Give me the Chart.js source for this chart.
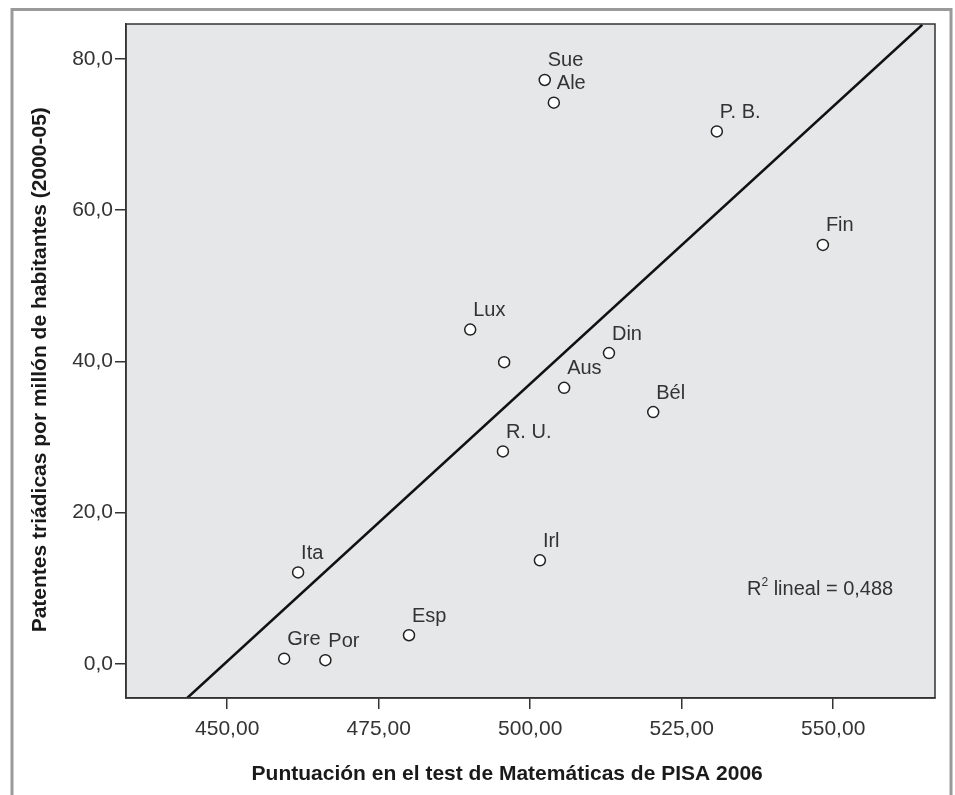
<!doctype html>
<html>

<head>
    <title>PISA y patentes</title>
    <script src="https://cdn.jsdelivr.net/npm/chart.js"></script>
    <style>
        body { margin: 0; background: #fff; }
        #box { width: 955px; height: 795px; }
    </style>
</head>

<body>
    <div id="box">
        <canvas id="grafico" width="955" height="795"></canvas>
    </div>

    <script>
        // datos
        var paises = ['Sue', 'Ale', 'P. B.', 'Fin', 'Lux', '', 'Din', 'Aus', 'Bél', 'R. U.', 'Irl', 'Ita', 'Esp', 'Gre', 'Por'];
        var pisaMat = [502.4, 503.9, 530.8, 548.3, 490.1, 495.7, 513.0, 505.6, 520.3, 495.5, 501.6, 461.7, 480.0, 459.4, 466.2];
        var patentes = [77.2, 74.2, 70.4, 55.4, 44.2, 39.9, 41.1, 36.5, 33.3, 28.1, 13.7, 12.1, 3.8, 0.7, 0.5];

        var rectaX = [443.4, 564.7];
        var rectaY = [-4.5, 84.5];
        var r2Texto = '0,488';

        var ticksX = [450, 475, 500, 525, 550];
        var ticksY = [0, 20, 40, 60, 80];

        var fuente = "'Liberation Sans', Arial, sans-serif";
        var gris = '#333333';

        var puntos = pisaMat.map((x, i) => ({ x: x, y: patentes[i] }));
        var recta = rectaX.map((x, i) => ({ x: x, y: rectaY[i] }));

        // espacios finales para descentrar los titulos como en el original
        var esp = n => '\u00a0'.repeat(n);

        var marco = {
            id: 'marco',
            beforeDraw(chart) {
                var ctx = chart.ctx, a = chart.chartArea;
                ctx.save();
                ctx.strokeStyle = '#9a9a9a';
                ctx.lineWidth = 3;
                ctx.strokeRect(12, 9.5, 939, 800);
                ctx.fillStyle = '#e6e7e8';
                ctx.fillRect(a.left, a.top, a.right - a.left, a.bottom - a.top);
                ctx.restore();
            },
            afterDraw(chart) {
                var ctx = chart.ctx, a = chart.chartArea;
                var sx = chart.scales.x, sy = chart.scales.y;
                ctx.save();
                ctx.strokeStyle = gris;
                ctx.lineWidth = 1.5;
                ctx.strokeRect(a.left, a.top, a.right - a.left, a.bottom - a.top);

                // etiquetas de paises
                ctx.fillStyle = gris;
                ctx.font = '20px ' + fuente;
                ctx.textAlign = 'left';
                ctx.textBaseline = 'middle';
                paises.forEach((p, i) => {
                    if (!p) return;
                    ctx.fillText(p, sx.getPixelForValue(pisaMat[i]) + 3, sy.getPixelForValue(patentes[i]) - 19);
                });

                // R2
                var rx = sx.getPixelForValue(559.9), ry = sy.getPixelForValue(9.9);
                var resto = ' lineal = ' + r2Texto;
                ctx.textAlign = 'right';
                ctx.fillText(resto, rx, ry);
                var w = ctx.measureText(resto).width;
                ctx.font = '12px ' + fuente;
                ctx.fillText('2', rx - w, ry - 6);
                var w2 = ctx.measureText('2').width;
                ctx.font = '20px ' + fuente;
                ctx.fillText('R', rx - w - w2, ry);
                ctx.restore();
            }
        };

        var grafico = new Chart(document.getElementById('grafico').getContext('2d'), {
            type: 'scatter',
            data: {
                datasets: [{
                    label: 'Paises',
                    data: puntos,
                    pointRadius: 5.5,
                    pointBorderWidth: 1.5,
                    pointBorderColor: '#222',
                    pointBackgroundColor: '#ffffff'
                }, {
                    type: 'line',
                    label: 'Lineal',
                    data: recta,
                    borderColor: '#111',
                    borderWidth: 2.5,
                    pointRadius: 0,
                    fill: false
                }]
            },
            options: {
                responsive: false,
                animation: false,
                layout: {
                    padding: { left: 10, right: 20, top: 24, bottom: 0 }
                },
                plugins: {
                    legend: { display: false },
                    tooltip: { enabled: false }
                },
                scales: {
                    x: {
                        type: 'linear',
                        min: 433.3,
                        max: 566.8,
                        afterBuildTicks: s => { s.ticks = ticksX.map(v => ({ value: v })); },
                        afterFit: s => { s.height = 97; },
                        grid: { drawOnChartArea: false, drawTicks: true, tickLength: 11, color: gris, lineWidth: 1.5 },
                        border: { display: true, color: gris, width: 1.5 },
                        ticks: {
                            color: gris,
                            padding: 8,
                            font: { family: fuente, size: 21 },
                            callback: v => v.toFixed(2).replace('.', ',')
                        },
                        title: {
                            display: true,
                            text: 'Puntuación en el test de Matemáticas de PISA 2006' + esp(8),
                            color: '#1a1a1a',
                            font: { family: fuente, size: 21, weight: 'bold' },
                            padding: { top: 0, bottom: 8 }
                        }
                    },
                    y: {
                        type: 'linear',
                        min: -4.5,
                        max: 84.6,
                        afterBuildTicks: s => { s.ticks = ticksY.map(v => ({ value: v })); },
                        afterFit: s => { s.width = 116; },
                        grid: { drawOnChartArea: false, drawTicks: true, tickLength: 11, color: gris, lineWidth: 1.5 },
                        border: { display: true, color: gris, width: 1.5 },
                        ticks: {
                            color: gris,
                            padding: 2,
                            font: { family: fuente, size: 21 },
                            callback: v => v.toFixed(1).replace('.', ',')
                        },
                        title: {
                            display: true,
                            text: 'Patentes triádicas por millón de habitantes (2000-05)' + esp(3),
                            color: '#1a1a1a',
                            font: { family: fuente, size: 21, weight: 'bold' },
                            padding: { top: 18, bottom: 0 }
                        }
                    }
                }
            },
            plugins: [marco]
        });
    </script>
</body>

</html>
